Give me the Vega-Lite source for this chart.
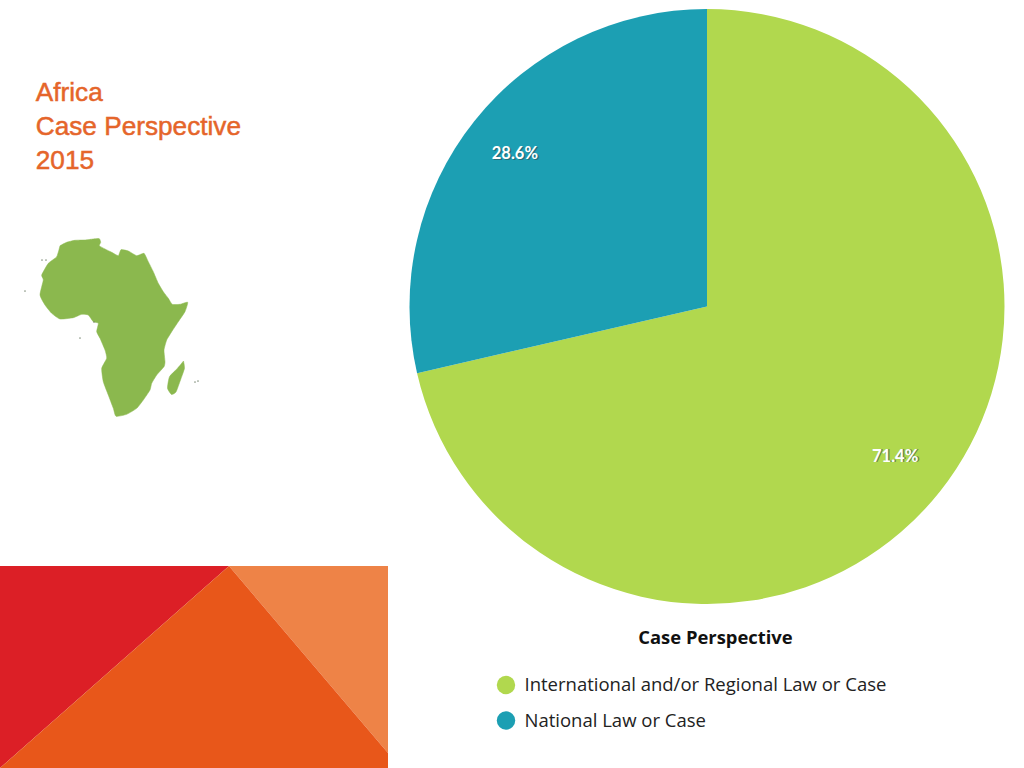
{"$schema":"https://vega.github.io/schema/vega-lite/v6.json","width":1024,"height":768,"autosize":{"type":"fit","contains":"padding"},"padding":0,"background":"#ffffff","config":{"view":{"stroke":null}},
"datasets":{"pie":[{"category":"International and/or Regional Law or Case","share":71.4,"rank":1,"label":"71.4%"},{"category":"National Law or Case","share":28.6,"rank":2,"label":"28.6%"}],
"heading":[{"line":"Africa","px":35.8,"py":101},{"line":"Case Perspective","px":35.8,"py":135},{"line":"2015","px":35.8,"py":169}],
"red":[{"i":1,"px":0,"py":566},{"i":2,"px":229,"py":566},{"i":3,"px":0,"py":768},{"i":4,"px":0,"py":566}],
"orange":[{"i":1,"px":229,"py":566},{"i":2,"px":388,"py":753},{"i":3,"px":388,"py":768},{"i":4,"px":0,"py":768},{"i":5,"px":229,"py":566}],
"light":[{"i":1,"px":229,"py":566},{"i":2,"px":388,"py":566},{"i":3,"px":388,"py":753},{"i":4,"px":229,"py":566}],
"africa":[{"i":1,"px":60,"py":245.7},{"i":2,"px":66.7,"py":242.3},{"i":3,"px":75,"py":240.3},{"i":4,"px":85,"py":240},{"i":5,"px":93.3,"py":239},{"i":6,"px":99.3,"py":238.7},{"i":7,"px":100.7,"py":242.3},{"i":8,"px":99.3,"py":245.7},{"i":9,"px":105,"py":249},{"i":10,"px":111.7,"py":252.3},{"i":11,"px":118.3,"py":255.7},{"i":12,"px":121,"py":249.7},{"i":13,"px":128.3,"py":251},{"i":14,"px":136.7,"py":255.7},{"i":15,"px":144,"py":253.3},{"i":16,"px":148.3,"py":261.7},{"i":17,"px":153.3,"py":271.7},{"i":18,"px":158.3,"py":283.3},{"i":19,"px":163.3,"py":291.7},{"i":20,"px":168.3,"py":298.3},{"i":21,"px":172.3,"py":304.3},{"i":22,"px":180,"py":304.3},{"i":23,"px":187.7,"py":302.3},{"i":24,"px":185,"py":311.7},{"i":25,"px":178.3,"py":321.7},{"i":26,"px":171.7,"py":331.7},{"i":27,"px":166.7,"py":340},{"i":28,"px":164,"py":350},{"i":29,"px":165,"py":361.7},{"i":30,"px":164,"py":366.7},{"i":31,"px":156.7,"py":375},{"i":32,"px":151.7,"py":383.3},{"i":33,"px":150,"py":390},{"i":34,"px":143.3,"py":400},{"i":35,"px":136.7,"py":408.3},{"i":36,"px":126.7,"py":414.3},{"i":37,"px":116,"py":416.3},{"i":38,"px":113.3,"py":408.3},{"i":39,"px":108.3,"py":395},{"i":40,"px":103.3,"py":381.7},{"i":41,"px":101.7,"py":368.3},{"i":42,"px":106.7,"py":358.3},{"i":43,"px":105,"py":350},{"i":44,"px":100,"py":338.3},{"i":45,"px":96.7,"py":331.7},{"i":46,"px":98.3,"py":323.3},{"i":47,"px":93.3,"py":321.7},{"i":48,"px":88.3,"py":315},{"i":49,"px":81.7,"py":314.3},{"i":50,"px":73.3,"py":317.7},{"i":51,"px":60,"py":319},{"i":52,"px":51.7,"py":313.3},{"i":53,"px":45,"py":305},{"i":54,"px":40,"py":295},{"i":55,"px":43.3,"py":280},{"i":56,"px":41.7,"py":275},{"i":57,"px":48.3,"py":263.3},{"i":58,"px":56.7,"py":256.7},{"i":59,"px":60,"py":245.7}],
"madagascar":[{"i":1,"px":183.5,"py":361},{"i":2,"px":184.5,"py":368.3},{"i":3,"px":180.5,"py":380},{"i":4,"px":176,"py":392},{"i":5,"px":171.5,"py":394.5},{"i":6,"px":167.5,"py":388.3},{"i":7,"px":169.5,"py":376.7},{"i":8,"px":177.5,"py":368.3},{"i":9,"px":183.5,"py":361}],
"islands":[{"px":42,"py":260},{"px":46,"py":260},{"px":25,"py":291},{"px":80,"py":338},{"px":94,"py":322},{"px":198,"py":381},{"px":195,"py":382}]},
"layer":[
{"data":{"name":"red"},"mark":{"type":"line","fill":"#DC1F26","stroke":null},"encoding":{"x":{"field":"px","type":"quantitative","scale":{"domain":[0,1024],"nice":false,"zero":false},"axis":null},"y":{"field":"py","type":"quantitative","scale":{"domain":[768,0],"nice":false,"zero":false},"axis":null},"order":{"field":"i"}}},
{"data":{"name":"light"},"mark":{"type":"line","fill":"#EE8347","stroke":null},"encoding":{"x":{"field":"px","type":"quantitative"},"y":{"field":"py","type":"quantitative"},"order":{"field":"i"}}},
{"data":{"name":"orange"},"mark":{"type":"line","fill":"#E8571A","stroke":null},"encoding":{"x":{"field":"px","type":"quantitative"},"y":{"field":"py","type":"quantitative"},"order":{"field":"i"}}},
{"data":{"name":"africa"},"mark":{"type":"line","interpolate":"cardinal","tension":0.5,"fill":"#8BB84E","stroke":"#8BB84E","strokeWidth":0.5},"encoding":{"x":{"field":"px","type":"quantitative"},"y":{"field":"py","type":"quantitative"},"order":{"field":"i"}}},
{"data":{"name":"madagascar"},"mark":{"type":"line","interpolate":"cardinal","tension":0.5,"fill":"#8BB84E","stroke":"#8BB84E","strokeWidth":0.5},"encoding":{"x":{"field":"px","type":"quantitative"},"y":{"field":"py","type":"quantitative"},"order":{"field":"i"}}},
{"data":{"name":"islands"},"mark":{"type":"point","filled":true,"color":"#6f7f6a","size":3,"opacity":0.8},"encoding":{"x":{"field":"px","type":"quantitative"},"y":{"field":"py","type":"quantitative"}}},
{"data":{"name":"heading"},"mark":{"type":"text","align":"left","baseline":"alphabetic","font":"Liberation Sans","fontSize":26.2,"color":"#E5652A","stroke":"#E5652A","strokeWidth":0.5},"encoding":{"x":{"field":"px","type":"quantitative"},"y":{"field":"py","type":"quantitative"},"text":{"field":"line"}}},
{"data":{"name":"pie"},"mark":{"type":"arc","radius":297.5},"encoding":{"x":{"datum":707,"type":"quantitative"},"y":{"datum":306.5,"type":"quantitative"},"theta":{"field":"share","type":"quantitative","stack":true},"order":{"field":"rank"},"color":{"field":"category","type":"nominal","scale":{"domain":["International and/or Regional Law or Case","National Law or Case"],"range":["#B1D84E","#1C9FB3"]},"legend":{"orient":"none","legendX":496.5,"legendY":675.5,"title":null,"symbolType":"circle","symbolSize":340,"symbolStrokeWidth":0,"labelFont":"Open Sans","labelFontSize":18.5,"labelColor":"#222222","labelLimit":500,"labelOffset":9,"rowPadding":16.5}}}},
{"data":{"name":"pie"},"mark":{"type":"text","radius":243,"font":"Lato","fontWeight":"bold","fontSize":16.5,"color":"#2b4a50","opacity":0.55,"dx":1,"dy":0.5},"encoding":{"x":{"datum":705.5,"type":"quantitative"},"y":{"datum":305.5,"type":"quantitative"},"theta":{"field":"share","type":"quantitative","stack":true},"order":{"field":"rank"},"text":{"field":"label"}}},
{"data":{"name":"pie"},"mark":{"type":"text","radius":243,"font":"Lato","fontWeight":"bold","fontSize":16.5,"color":"#ffffff"},"encoding":{"x":{"datum":705,"type":"quantitative"},"y":{"datum":305.5,"type":"quantitative"},"theta":{"field":"share","type":"quantitative","stack":true},"order":{"field":"rank"},"text":{"field":"label"}}},
{"data":{"values":[{"t":"Case Perspective"}]},"mark":{"type":"text","font":"Open Sans","fontWeight":"bold","fontSize":18.4,"color":"#111111"},"encoding":{"x":{"datum":715.5,"type":"quantitative"},"y":{"datum":638,"type":"quantitative"},"text":{"field":"t"}}}
]}
